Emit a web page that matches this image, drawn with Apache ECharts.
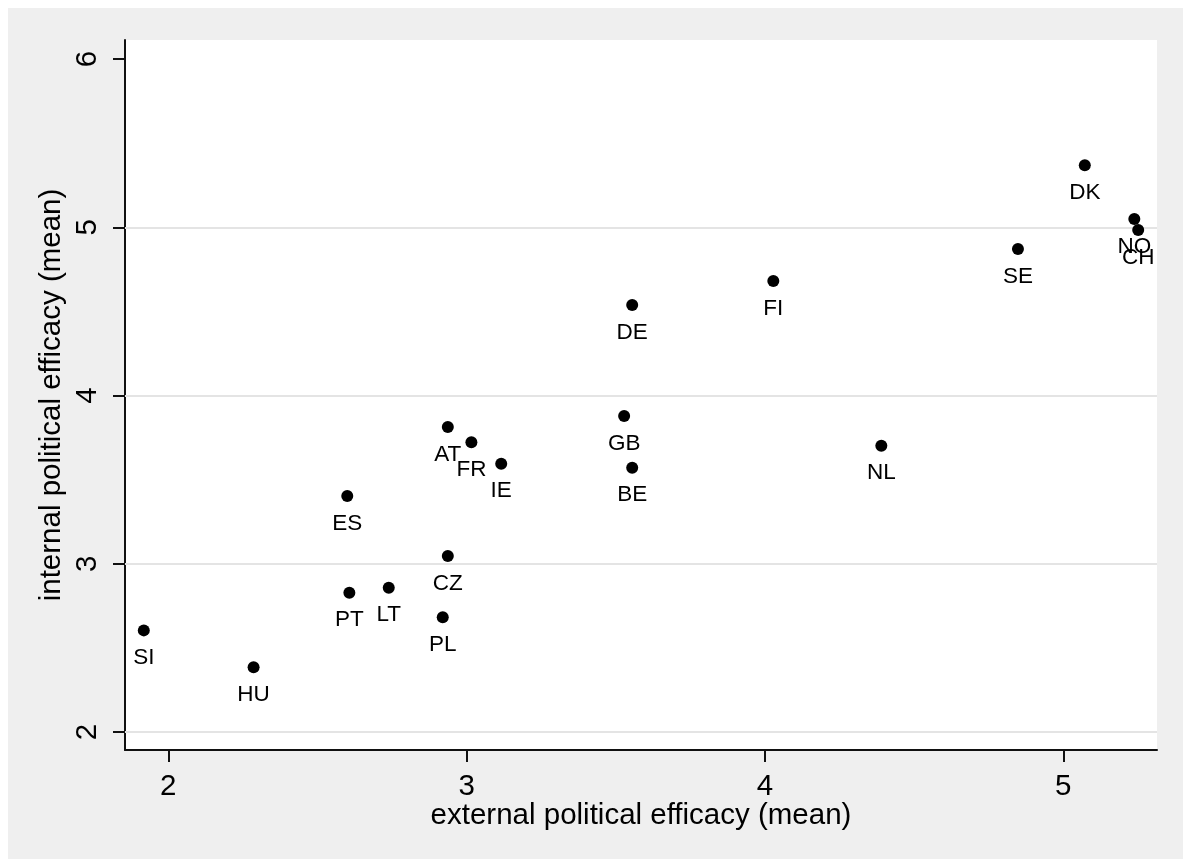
<!DOCTYPE html>
<html>
<head>
<meta charset="utf-8">
<script src="https://cdn.jsdelivr.net/npm/echarts@6/dist/echarts.min.js"></script>
<style>
  html, body { margin: 0; padding: 0; background: #ffffff; }
  #chart { position: absolute; left: 8px; top: 8px; width: 1175px; height: 851px; }
</style>
</head>
<body>
<div id="chart"></div>
<script>
const countries = ['SI','HU','ES','PT','LT','PL','CZ','AT','FR','IE','GB','BE','DE','FI','NL','SE','DK','NO','CH'];
const externalMean = [1.918,2.286,2.600,2.607,2.739,2.920,2.937,2.937,3.016,3.116,3.528,3.555,3.555,4.028,4.390,4.848,5.072,5.238,5.251];
const internalMean = [2.604,2.385,3.403,2.828,2.858,2.682,3.046,3.813,3.722,3.595,3.878,3.571,4.538,4.681,3.702,4.871,5.368,5.049,4.984];
const xTicks = [2,3,4,5];
const yTicks = [2,3,4,5,6];
const yGridLines = [2,3,4,5];

const FONT = 'Liberation Sans, Arial, sans-serif';
const chart = echarts.init(document.getElementById('chart'));
const points = countries.map((c, i) => ({ name: c, value: [externalMean[i], internalMean[i]] }));

chart.setOption({
  backgroundColor: '#efefef',
  animation: false,
  textStyle: { fontFamily: FONT },
  grid: { left: 117, top: 32, width: 1032, height: 710, show: true, backgroundColor: '#ffffff', borderWidth: 0 },
  xAxis: {
    type: 'value', min: 1.855, max: 5.314,
    name: 'external political efficacy (mean)', nameLocation: 'middle', nameGap: 51,
    nameMoveOverlap: false,
    nameTextStyle: { fontFamily: FONT, fontSize: 29.5, color: '#000' },
    axisLine: { show: true, onZero: false, lineStyle: { color: '#111', width: 2 } },
    axisTick: { show: true, length: 12, customValues: xTicks, lineStyle: { color: '#111', width: 2 } },
    axisLabel: { customValues: xTicks, fontFamily: FONT, fontSize: 29.5, color: '#000', margin: 22 },
    splitLine: { show: false }
  },
  yAxis: {
    type: 'value', min: 1.893, max: 6.113,
    name: 'internal political efficacy (mean)', nameLocation: 'middle', nameGap: 58,
    nameMoveOverlap: false,
    nameTextStyle: { fontFamily: FONT, fontSize: 29.5, color: '#000' },
    axisLine: { show: true, onZero: false, lineStyle: { color: '#111', width: 2 } },
    axisTick: { show: true, length: 12, customValues: yTicks, lineStyle: { color: '#111', width: 2 } },
    axisLabel: { customValues: yTicks, rotate: 90, fontFamily: FONT, fontSize: 29.5, color: '#000', margin: 22 },
    splitLine: { show: false }
  },
  series: [
    {
      type: 'scatter', data: [], z: 1, silent: true,
      markLine: {
        silent: true, symbol: 'none', animation: false,
        label: { show: false },
        lineStyle: { color: '#e4e4e4', width: 2, type: 'solid', opacity: 1 },
        data: yGridLines.map(v => ({ yAxis: v }))
      }
    },
    {
      type: 'scatter', z: 5, symbol: 'circle', symbolSize: 12,
      itemStyle: { color: '#000', opacity: 1 },
      data: points,
      label: {
        show: true, position: 'bottom', distance: 10,
        formatter: p => p.name,
        fontFamily: FONT, fontSize: 22.5, color: '#000'
      }
    }
  ]
});
</script>
</body>
</html>
